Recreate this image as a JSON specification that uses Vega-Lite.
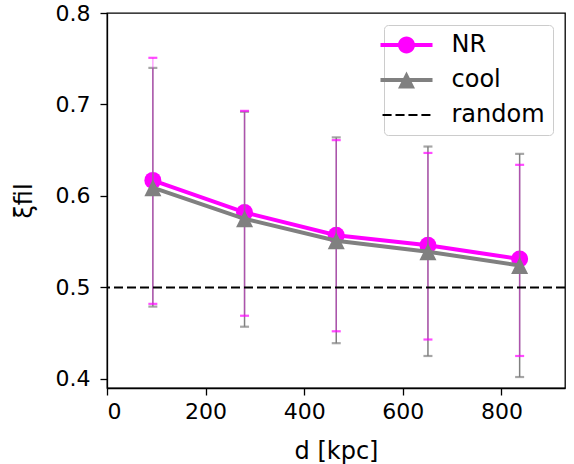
{
  "$schema": "https://vega.github.io/schema/vega-lite/v6.json",
  "width": 458,
  "height": 375,
  "autosize": {"type": "none"},
  "padding": {"left": 107, "top": 13, "right": 9, "bottom": 76},
  "background": "white",
  "config": {
    "font": "DejaVu Sans",
    "view": {"stroke": "black", "strokeWidth": 1.3},
    "axis": {
      "grid": false,
      "domainColor": "black",
      "domainWidth": 1.3,
      "tickColor": "black",
      "tickWidth": 1.3,
      "tickSize": 7,
      "labelColor": "black",
      "labelFontSize": 22,
      "labelFont": "DejaVu Sans",
      "titleFont": "DejaVu Sans",
      "titleFontSize": 24,
      "titleFontWeight": "normal",
      "titleColor": "black"
    },
    "axisX": {"labelPadding": 6, "titlePadding": 17},
    "axisY": {"labelPadding": 10, "titlePadding": 19}
  },
  "data": {
    "values": [
      {"series": "NR", "d": 93, "xi": 0.617, "lo": 0.482, "hi": 0.751},
      {"series": "NR", "d": 279, "xi": 0.582, "lo": 0.469, "hi": 0.693},
      {"series": "NR", "d": 465, "xi": 0.557, "lo": 0.452, "hi": 0.661},
      {"series": "NR", "d": 651, "xi": 0.546, "lo": 0.443, "hi": 0.647},
      {"series": "NR", "d": 837, "xi": 0.531, "lo": 0.425, "hi": 0.634},
      {"series": "cool", "d": 93, "xi": 0.609, "lo": 0.479, "hi": 0.740},
      {"series": "cool", "d": 279, "xi": 0.575, "lo": 0.457, "hi": 0.692},
      {"series": "cool", "d": 465, "xi": 0.551, "lo": 0.439, "hi": 0.664},
      {"series": "cool", "d": 651, "xi": 0.539, "lo": 0.425, "hi": 0.654},
      {"series": "cool", "d": 837, "xi": 0.524, "lo": 0.402, "hi": 0.646}
    ]
  },
  "layer": [
    {
      "mark": {"type": "point", "filled": true, "size": 0, "opacity": 1, "strokeWidth": 0},
      "encoding": {
        "x": {"field": "d", "type": "quantitative", "title": "d [kpc]", "scale": {"domain": [0, 929], "nice": false, "zero": false}, "axis": {"values": [0, 200, 400, 600, 800]}},
        "y": {"field": "xi", "type": "quantitative", "title": "ξfil", "scale": {"domain": [0.39, 0.8], "nice": false, "zero": false}, "axis": {"values": [0.4, 0.5, 0.6, 0.7, 0.8], "format": ".1f"}},
        "color": {"field": "series", "type": "nominal", "scale": {"domain": ["NR", "cool", "random"], "range": ["#ff00ff", "#808080", "#000000"]},
          "legend": {
            "title": null, "orient": "top-right", "offset": 12, "padding": 8, "fillColor": "white", "strokeColor": "#cccccc", "cornerRadius": 4,
            "labelFontSize": 24, "labelFont": "DejaVu Sans", "labelColor": "black", "symbolSize": 289, "symbolOffset": 2.5, "labelOffset": 33, "rowPadding": 11, "symbolStrokeWidth": 0, "symbolOpacity": 1
          }},
        "shape": {"field": "series", "type": "nominal", "scale": {"domain": ["NR", "cool", "random"], "range": [
          "M-3.06,-0.235H3.06V0.235H-3.06Z M-1,0A1,1 0 1,1 1,0A1,1 0 1,1 -1,0Z",
          "M-3.06,-0.235H3.06V0.235H-3.06Z M0,-1L1,1L-1,1Z",
          "M-2.82,-0.12H-1.754V0.12H-2.82Z M-1.296,-0.12H-0.23V0.12H-1.296Z M0.228,-0.12H1.294V0.12H0.228Z M1.752,-0.12H2.818V0.12H1.752Z"
        ]}}
      }
    },
    {
      "transform": [{"filter": "datum.series === 'NR'"}],
      "mark": {"type": "line", "color": "#ff00ff", "strokeWidth": 4},
      "encoding": {
        "x": {"field": "d", "type": "quantitative", "title": "d [kpc]"},
        "y": {"field": "xi", "type": "quantitative", "title": "ξfil"}
      }
    },
    {
      "transform": [{"filter": "datum.series === 'NR'"}],
      "mark": {"type": "point", "filled": true, "size": 289, "opacity": 1, "strokeWidth": 0, "color": "#ff00ff", "shape": "circle"},
      "encoding": {
        "x": {"field": "d", "type": "quantitative", "title": "d [kpc]"},
        "y": {"field": "xi", "type": "quantitative", "title": "ξfil"}
      }
    },
    {
      "transform": [{"filter": "datum.series === 'cool'"}],
      "mark": {"type": "errorbar", "color": "#808080", "ticks": {"size": 9, "thickness": 2.2}, "rule": {"strokeWidth": 1.5}},
      "encoding": {
        "x": {"field": "d", "type": "quantitative", "title": "d [kpc]"},
        "y": {"field": "lo", "type": "quantitative", "title": "ξfil"},
        "y2": {"field": "hi"}
      }
    },
    {
      "transform": [{"filter": "datum.series === 'NR'"}],
      "mark": {"type": "errorbar", "color": "#ff00ff", "ticks": {"size": 9, "thickness": 2.2}, "rule": {"strokeWidth": 1.5, "opacity": 0.35}},
      "encoding": {
        "x": {"field": "d", "type": "quantitative", "title": "d [kpc]"},
        "y": {"field": "lo", "type": "quantitative", "title": "ξfil"},
        "y2": {"field": "hi"}
      }
    },
    {
      "transform": [{"filter": "datum.series === 'cool'"}],
      "mark": {"type": "line", "color": "#808080", "strokeWidth": 4},
      "encoding": {
        "x": {"field": "d", "type": "quantitative", "title": "d [kpc]"},
        "y": {"field": "xi", "type": "quantitative", "title": "ξfil"}
      }
    },
    {
      "transform": [{"filter": "datum.series === 'cool'"}],
      "mark": {"type": "point", "filled": true, "size": 289, "opacity": 1, "strokeWidth": 0, "color": "#808080", "shape": "M0,-1L1,1L-1,1Z"},
      "encoding": {
        "x": {"field": "d", "type": "quantitative", "title": "d [kpc]"},
        "y": {"field": "xi", "type": "quantitative", "title": "ξfil"}
      }
    },
    {
      "data": {"values": [{"series": "random", "level": 0.5}]},
      "mark": {"type": "rule", "color": "black", "strokeWidth": 2, "strokeDash": [9, 4]},
      "encoding": {
        "y": {"field": "level", "type": "quantitative", "title": "ξfil"}
      }
    }
  ]
}
